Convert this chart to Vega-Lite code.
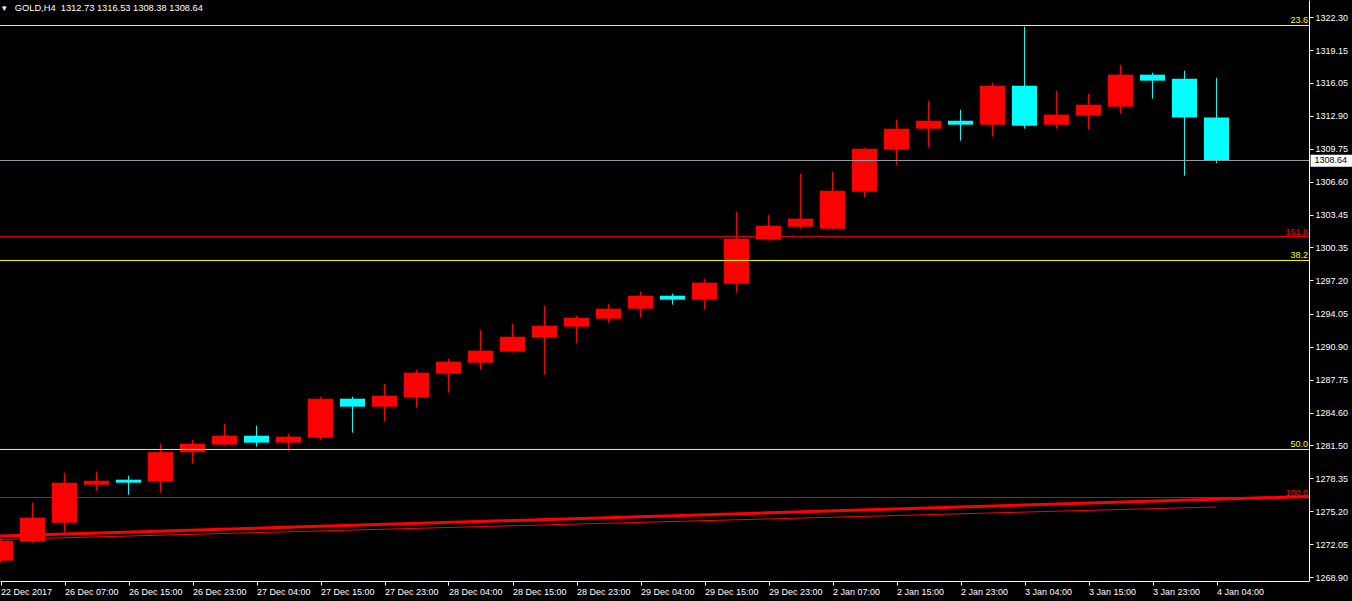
{
  "$schema": "https://vega.github.io/schema/vega-lite/v6.json",
  "width": 1309,
  "height": 581,
  "autosize": {"type": "none"},
  "padding": {"top": 0, "left": 0, "right": 43, "bottom": 20},
  "background": "#000000",
  "config": {"view": {"stroke": null}, "font": "Liberation Sans"},
  "title": {
    "text": "▾ \u00a0\u00a0GOLD,H4\u00a0\u00a01312.73 1316.53 1308.38 1308.64",
    "anchor": "start",
    "frame": "group",
    "orient": "top",
    "offset": -13,
    "dx": 2,
    "color": "#FFFFFF",
    "font": "Liberation Sans",
    "fontSize": 9.3,
    "fontWeight": "normal"
  },
  "datasets": {
    "candles": [
      {"i": 0, "o": 1270.49, "h": 1272.6, "l": 1270.3, "c": 1272.39},
      {"i": 1, "o": 1272.30, "h": 1276.02, "l": 1272.20, "c": 1274.59},
      {"i": 2, "o": 1274.11, "h": 1278.88, "l": 1273.16, "c": 1277.92},
      {"i": 3, "o": 1277.73, "h": 1278.97, "l": 1277.16, "c": 1278.11},
      {"i": 4, "o": 1278.21, "h": 1278.59, "l": 1276.78, "c": 1277.92},
      {"i": 5, "o": 1278.02, "h": 1281.64, "l": 1276.97, "c": 1280.83},
      {"i": 6, "o": 1280.83, "h": 1282.02, "l": 1279.73, "c": 1281.64},
      {"i": 7, "o": 1281.55, "h": 1283.55, "l": 1281.45, "c": 1282.40},
      {"i": 8, "o": 1282.40, "h": 1283.36, "l": 1281.36, "c": 1281.74},
      {"i": 9, "o": 1281.74, "h": 1282.59, "l": 1280.98, "c": 1282.31},
      {"i": 10, "o": 1282.21, "h": 1286.12, "l": 1282.02, "c": 1285.93},
      {"i": 11, "o": 1285.93, "h": 1286.12, "l": 1282.69, "c": 1285.17},
      {"i": 12, "o": 1285.17, "h": 1287.36, "l": 1283.74, "c": 1286.22},
      {"i": 13, "o": 1286.03, "h": 1288.70, "l": 1285.07, "c": 1288.41},
      {"i": 14, "o": 1288.31, "h": 1289.74, "l": 1286.50, "c": 1289.46},
      {"i": 15, "o": 1289.36, "h": 1292.51, "l": 1288.70, "c": 1290.51},
      {"i": 16, "o": 1290.41, "h": 1293.08, "l": 1290.32, "c": 1291.84},
      {"i": 17, "o": 1291.75, "h": 1294.80, "l": 1288.22, "c": 1292.89},
      {"i": 18, "o": 1292.80, "h": 1293.84, "l": 1291.20, "c": 1293.65},
      {"i": 19, "o": 1293.56, "h": 1294.99, "l": 1293.18, "c": 1294.51},
      {"i": 20, "o": 1294.51, "h": 1296.13, "l": 1293.65, "c": 1295.75},
      {"i": 21, "o": 1295.75, "h": 1295.94, "l": 1294.89, "c": 1295.37},
      {"i": 22, "o": 1295.37, "h": 1297.37, "l": 1294.42, "c": 1296.99},
      {"i": 23, "o": 1296.89, "h": 1303.76, "l": 1296.04, "c": 1301.19},
      {"i": 24, "o": 1301.09, "h": 1303.47, "l": 1301.00, "c": 1302.42},
      {"i": 25, "o": 1302.33, "h": 1307.38, "l": 1302.14, "c": 1303.09},
      {"i": 26, "o": 1302.14, "h": 1307.57, "l": 1302.04, "c": 1305.76},
      {"i": 27, "o": 1305.66, "h": 1309.85, "l": 1305.09, "c": 1309.76},
      {"i": 28, "o": 1309.67, "h": 1312.53, "l": 1308.24, "c": 1311.67},
      {"i": 29, "o": 1311.67, "h": 1314.34, "l": 1309.86, "c": 1312.43},
      {"i": 30, "o": 1312.43, "h": 1313.48, "l": 1310.53, "c": 1312.05},
      {"i": 31, "o": 1312.05, "h": 1316.06, "l": 1310.91, "c": 1315.77},
      {"i": 32, "o": 1315.77, "h": 1321.39, "l": 1311.67, "c": 1311.96},
      {"i": 33, "o": 1312.05, "h": 1315.30, "l": 1311.67, "c": 1313.01},
      {"i": 34, "o": 1312.91, "h": 1315.01, "l": 1311.58, "c": 1313.96},
      {"i": 35, "o": 1313.77, "h": 1317.77, "l": 1313.10, "c": 1316.82},
      {"i": 36, "o": 1316.82, "h": 1317.01, "l": 1314.53, "c": 1316.25},
      {"i": 37, "o": 1316.44, "h": 1317.20, "l": 1307.19, "c": 1312.73},
      {"i": 38, "o": 1312.73, "h": 1316.53, "l": 1308.38, "c": 1308.64}
    ],
    "levels": [
      {"label": "23.6", "price": 1321.51, "kind": "retracement"},
      {"label": "161.8", "price": 1301.39, "kind": "expansion"},
      {"label": "38.2", "price": 1299.11, "kind": "retracement"},
      {"label": "50.0", "price": 1281.09, "kind": "retracement"},
      {"label": "100.0", "price": 1276.51, "kind": "expansion"}
    ],
    "thick": [
      {"i": -0.0156, "p": 1272.84},
      {"i": 40.89, "p": 1276.61}
    ],
    "thin": [
      {"i": 0, "p": 1272.51},
      {"i": 38, "p": 1275.61}
    ],
    "last": [
      {"i": 40.94, "i2": 42.25, "lo": 1308.05, "hi": 1309.19, "price": 1308.64, "ti": 41.06}
    ]
  },
  "encoding": {
    "x": {
      "field": "i",
      "type": "quantitative",
      "scale": {"domain": [-0.015625, 40.890625], "nice": false, "zero": false, "padding": 0},
      "axis": {
        "orient": "bottom",
        "title": null,
        "values": [0, 2, 4, 6, 8, 10, 12, 14, 16, 18, 20, 22, 24, 26, 28, 30, 32, 34, 36, 38],
        "labelExpr": "['22 Dec 2017','26 Dec 07:00','26 Dec 15:00','26 Dec 23:00','27 Dec 04:00','27 Dec 15:00','27 Dec 23:00','28 Dec 04:00','28 Dec 15:00','28 Dec 23:00','29 Dec 04:00','29 Dec 15:00','29 Dec 23:00','2 Jan 07:00','2 Jan 15:00','2 Jan 23:00','3 Jan 04:00','3 Jan 15:00','3 Jan 23:00','4 Jan 04:00'][datum.value / 2]",
        "labelAlign": "left",
        "labelBaseline": "top",
        "labelPadding": 2,
        "labelFlush": false,
        "labelOverlap": false,
        "labelBound": false,
        "labelColor": "#FFFFFF",
        "labelFont": "Liberation Sans",
        "labelFontSize": 9,
        "tickColor": "#FFFFFF",
        "tickSize": 4,
        "domainColor": "#FFFFFF",
        "domainWidth": 1,
        "grid": false
      }
    },
    "y": {
      "type": "quantitative",
      "scale": {"domain": [1268.55, 1323.94], "nice": false, "zero": false, "padding": 0},
      "axis": {
        "orient": "right",
        "title": null,
        "values": [1322.30, 1319.15, 1316.05, 1312.90, 1309.75, 1306.60, 1303.45, 1300.35, 1297.20, 1294.05, 1290.90, 1287.75, 1284.60, 1281.50, 1278.35, 1275.20, 1272.05, 1268.90],
        "format": ".2f",
        "labelAlign": "left",
        "labelPadding": 2,
        "labelFlush": false,
        "labelOverlap": false,
        "labelBound": false,
        "labelColor": "#FFFFFF",
        "labelFont": "Liberation Sans",
        "labelFontSize": 9,
        "tickColor": "#FFFFFF",
        "tickSize": 4,
        "domainColor": "#FFFFFF",
        "domainWidth": 1,
        "grid": false
      }
    }
  },
  "layer": [
    {
      "data": {"name": "candles"},
      "mark": {"type": "rule", "strokeWidth": 1, "clip": true},
      "encoding": {
        "y": {"field": "l", "type": "quantitative"},
        "y2": {"field": "h"},
        "color": {"condition": {"test": "datum.c < datum.o", "value": "#00FFFF"}, "value": "#FF0000"}
      }
    },
    {
      "data": {"name": "candles"},
      "mark": {"type": "bar", "size": 25, "clip": true},
      "encoding": {
        "y": {"field": "o", "type": "quantitative"},
        "y2": {"field": "c"},
        "color": {"condition": {"test": "datum.c < datum.o", "value": "#00FFFF"}, "value": "#FF0000"}
      }
    },
    {
      "data": {"name": "levels"},
      "transform": [{"filter": "datum.kind == 'retracement'"}],
      "mark": {"type": "rule", "strokeWidth": 1, "color": "#FFFF00"},
      "encoding": {
        "x": null,
        "y": {"field": "price", "type": "quantitative"}
      }
    },
    {
      "data": {"name": "levels"},
      "transform": [{"filter": "datum.kind == 'expansion'"}],
      "mark": {"type": "rule", "strokeWidth": 1, "color": "#E00000"},
      "encoding": {
        "x": null,
        "y": {"field": "price", "type": "quantitative"}
      }
    },
    {
      "data": {"name": "last"},
      "mark": {"type": "rule", "strokeWidth": 1, "color": "#9A9AA2"},
      "encoding": {
        "x": null,
        "y": {"field": "price", "type": "quantitative"}
      }
    },
    {
      "data": {"name": "thin"},
      "mark": {"type": "line", "strokeWidth": 1, "color": "#FF0000", "clip": true},
      "encoding": {
        "y": {"field": "p", "type": "quantitative"}
      }
    },
    {
      "data": {"name": "thick"},
      "mark": {"type": "line", "strokeWidth": 3, "color": "#FF0000", "clip": true},
      "encoding": {
        "y": {"field": "p", "type": "quantitative"}
      }
    },
    {
      "data": {"name": "levels"},
      "transform": [{"filter": "datum.kind == 'retracement'"}],
      "mark": {"type": "text", "align": "right", "baseline": "bottom", "dx": -1, "dy": 0, "font": "Liberation Sans", "fontSize": 9, "color": "#FFFF00"},
      "encoding": {
        "x": {"value": "width"},
        "y": {"field": "price", "type": "quantitative"},
        "text": {"field": "label", "type": "nominal"}
      }
    },
    {
      "data": {"name": "levels"},
      "transform": [{"filter": "datum.kind == 'expansion'"}],
      "mark": {"type": "text", "align": "right", "baseline": "bottom", "dx": -1, "dy": 0, "font": "Liberation Sans", "fontSize": 9, "color": "#FF0000"},
      "encoding": {
        "x": {"value": "width"},
        "y": {"field": "price", "type": "quantitative"},
        "text": {"field": "label", "type": "nominal"}
      }
    },
    {
      "data": {"name": "last"},
      "mark": {"type": "rect", "color": "#FFFFFF", "clip": false},
      "encoding": {
        "x": {"field": "i", "type": "quantitative"},
        "x2": {"field": "i2"},
        "y": {"field": "lo", "type": "quantitative"},
        "y2": {"field": "hi"}
      }
    },
    {
      "data": {"name": "last"},
      "mark": {"type": "text", "align": "left", "baseline": "middle", "color": "#000000", "font": "Liberation Sans", "fontSize": 9, "clip": false},
      "encoding": {
        "x": {"field": "ti", "type": "quantitative"},
        "y": {"field": "price", "type": "quantitative"},
        "text": {"field": "price", "type": "quantitative", "format": ".2f"}
      }
    }
  ]
}
